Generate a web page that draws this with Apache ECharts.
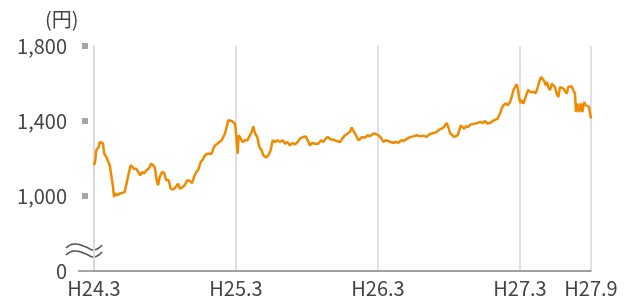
<!DOCTYPE html>
<html><head><meta charset="utf-8">
<script src="https://cdn.jsdelivr.net/npm/echarts@6/dist/echarts.min.js"></script>
<style>html,body{margin:0;padding:0;background:#fff}#c{width:631px;height:304px}</style>
</head><body><div id="c"></div>
<script>
// months elapsed since H24.3 (March 2012)
const months = [0,0.11,0.19,0.28,0.40,0.48,0.62,0.76,0.85,0.95,1.04,1.18,1.33,1.46,1.61,1.69,1.80,1.97,2.17,2.37,2.59,2.73,2.81,2.93,3.10,3.21,3.38,3.57,3.72,3.91,4.06,4.23,4.42,4.62,4.84,4.99,5.13,5.27,5.41,5.55,5.75,5.92,6.11,6.31,6.48,6.68,6.87,7.10,7.24,7.44,7.67,7.88,8.11,8.28,8.45,8.62,8.81,9.02,9.19,9.38,9.58,9.74,9.95,10.08,10.23,10.42,10.59,10.79,10.93,11.07,11.21,11.35,11.49,11.64,11.77,11.92,12.06,12.14,12.23,12.40,12.57,12.76,12.96,13.12,13.33,13.46,13.61,13.80,13.97,14.17,14.31,14.54,14.73,14.93,15.10,15.30,15.49,15.72,15.95,16.14,16.34,16.56,16.79,16.99,17.21,17.41,17.69,17.89,18.06,18.25,18.45,18.68,18.96,19.18,19.38,19.58,19.75,19.89,20.03,20.22,20.51,20.79,20.98,21.21,21.44,21.63,21.78,21.91,22.06,22.20,22.34,22.48,22.67,22.90,23.13,23.32,23.52,23.75,23.89,24.03,24.25,24.45,24.65,24.87,25.10,25.29,25.50,25.72,25.94,26.14,26.28,26.48,26.71,26.99,27.27,27.55,27.83,28.12,28.34,28.54,28.73,28.96,29.18,29.38,29.58,29.81,29.94,30.09,30.28,30.45,30.59,30.74,30.87,30.99,31.12,31.27,31.44,31.63,31.84,32.00,32.20,32.39,32.62,32.85,33.04,33.24,33.47,33.69,33.89,34.12,34.31,34.45,34.59,34.79,34.96,35.16,35.30,35.44,35.58,35.72,35.81,35.92,36.03,36.15,36.29,36.43,36.57,36.70,36.85,36.99,37.13,37.33,37.50,37.63,37.78,37.92,38.05,38.17,38.28,38.39,38.54,38.68,38.82,38.96,39.10,39.24,39.38,39.52,39.66,39.80,39.95,40.08,40.23,40.37,40.50,40.65,40.73,40.84,40.99,41.13,41.27,41.41,41.56,41.69,41.83,42.0];
// share price (yen)
const prices = [1164,1190,1244,1235,1261,1288,1297,1281,1228,1235,1208,1201,1164,1110,1048,995,1013,1004,1013,1016,1021,1030,1084,1120,1164,1173,1146,1146,1137,1110,1128,1120,1137,1146,1173,1176,1155,1093,1057,1101,1128,1123,1084,1084,1040,1034,1045,1066,1040,1045,1057,1084,1080,1069,1101,1125,1140,1181,1194,1217,1226,1222,1226,1253,1270,1279,1288,1297,1315,1333,1368,1404,1395,1400,1395,1386,1297,1226,1324,1306,1288,1297,1297,1306,1342,1372,1333,1315,1261,1244,1217,1205,1217,1244,1297,1288,1297,1288,1297,1279,1288,1270,1283,1275,1288,1306,1315,1318,1297,1270,1283,1279,1279,1297,1288,1306,1315,1324,1301,1301,1293,1288,1306,1324,1333,1342,1365,1350,1333,1342,1297,1306,1315,1311,1324,1318,1329,1333,1342,1324,1311,1288,1297,1293,1288,1283,1288,1283,1297,1293,1297,1306,1315,1318,1324,1318,1322,1315,1329,1333,1336,1342,1354,1359,1368,1389,1368,1336,1324,1315,1306,1324,1350,1377,1368,1359,1372,1368,1382,1372,1386,1389,1395,1389,1400,1386,1389,1400,1406,1413,1440,1466,1484,1493,1484,1501,1528,1564,1581,1596,1573,1528,1496,1510,1493,1501,1546,1567,1555,1546,1555,1549,1581,1608,1635,1626,1613,1590,1608,1581,1564,1599,1590,1581,1546,1528,1581,1585,1573,1581,1546,1581,1590,1585,1564,1546,1448,1493,1448,1493,1448,1501,1484,1493,1475,1413];
const xTickMonths = [0,12,24,36,42];
const xTickLabels = ['H24.3','H25.3','H26.3','H27.3','H27.9'];
const yTicks = [600,1000,1400,1800];
const yTickLabels = ['0','1,000','1,400','1,800'];
const unitLabel = '(円)';

const txt = '#444';
const font = '"Noto Sans CJK JP", "Noto Sans", sans-serif';
const wavePts = [[0,5],[8,1],[20,4],[28,7],[36,2]];
const chart = echarts.init(document.getElementById('c'), null, {renderer:'canvas'});
chart.setOption({
  animation:false,
  backgroundColor:'#fff',
  grid:{left:94,right:40,top:46,bottom:33,containLabel:false},
  title:{text:unitLabel,left:40,top:4,textStyle:{fontSize:20,fontWeight:'normal',color:txt,fontFamily:font}},
  xAxis:{type:'value',min:0,max:42,
    axisLine:{show:true,lineStyle:{color:'#8a8a8a',width:1.5}},
    axisTick:{show:false,customValues:xTickMonths},
    axisLabel:{customValues:xTickMonths,margin:7,fontSize:20,color:txt,fontFamily:font,
      formatter:v=>xTickLabels[xTickMonths.indexOf(v)] || ''},
    splitLine:{show:true,lineStyle:{color:'#d6d6d6',width:1.5}}
  },
  yAxis:[
    {type:'value',min:600,max:1800,interval:400,
      axisLine:{show:true,onZero:false,lineStyle:{color:'#d6d6d6',width:1.5}},
      axisTick:{show:true,customValues:[600],length:16,lineStyle:{color:'#8a8a8a',width:1.5}},
      axisLabel:{margin:27,fontSize:20,color:txt,fontFamily:font,
        formatter:v=>yTickLabels[yTicks.indexOf(v)] || ''},
      splitLine:{show:true,lineStyle:{color:'#d6d6d6',width:1.5}}
    },
    {type:'value',min:600,max:1800,position:'left',offset:6,
      axisLine:{show:false,onZero:false},
      axisTick:{show:true,customValues:[1000,1400,1800],length:6,lineStyle:{color:'#a6a6a6',width:6}},
      axisLabel:{show:false},splitLine:{show:false}
    }
  ],
  graphic:[
    {type:'polyline',x:66,y:243,shape:{points:wavePts,smooth:0.5},style:{stroke:'#555',fill:null,lineWidth:1.6}},
    {type:'polyline',x:66,y:250,shape:{points:wavePts,smooth:0.5},style:{stroke:'#555',fill:null,lineWidth:1.6}}
  ],
  series:[{type:'line',yAxisIndex:0,showSymbol:false,symbol:'none',
    lineStyle:{color:'#f08a00',width:2.5},
    data:months.map((m,i)=>[m,prices[i]])}]
});
</script></body></html>
